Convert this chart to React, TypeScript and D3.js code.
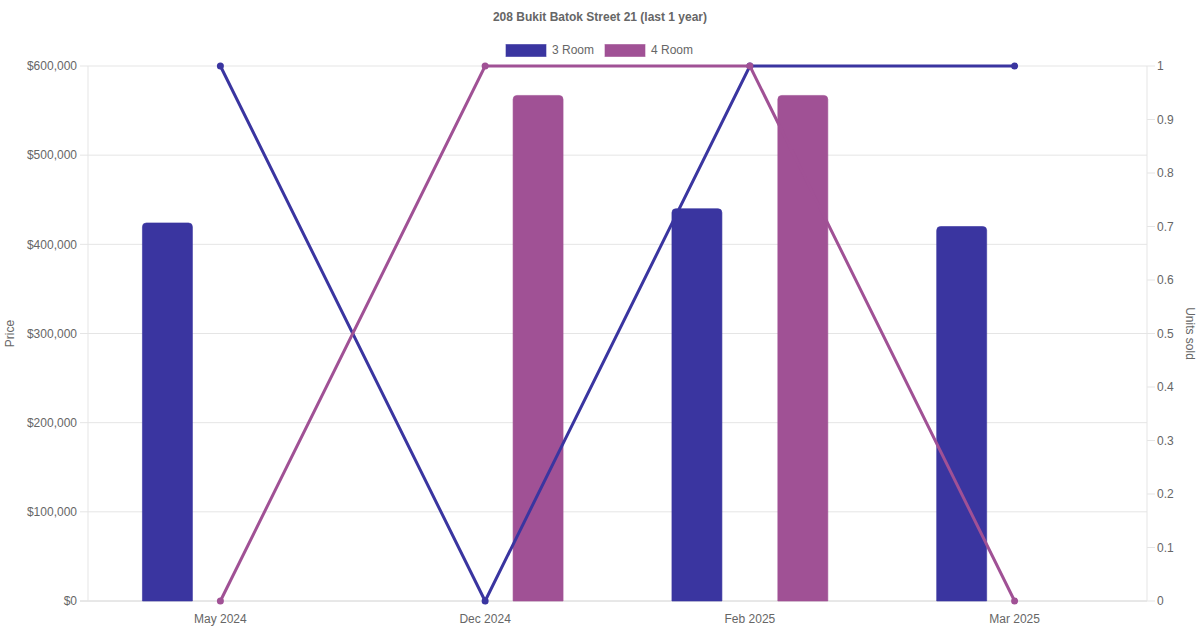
import * as d3 from "d3"

const categories = ["May 2024", "Dec 2024", "Feb 2025", "Mar 2025"]
const seriesNames = ["3 Room", "4 Room"]
const priceThree: (number | null)[] = [424000, null, 440000, 420000]
const priceFour: (number | null)[] = [null, 567000, 567000, null]
const unitsThree = [1, 0, 1, 1]
const unitsFour = [0, 1, 1, 0]
const priceTicks = [0, 100000, 200000, 300000, 400000, 500000, 600000]
const unitTicks = [0, 0.1, 0.2, 0.3, 0.4, 0.5, 0.6, 0.7, 0.8, 0.9, 1]

const colors = ["#3a35a0", "#a05195"]
const width = 1200
const height = 630
const margin = { top: 66, right: 53, bottom: 29, left: 88 }
const font = "'Liberation Sans', Arial, Helvetica, sans-serif"
const textColor = "#666"
const gridColor = "#e5e5e5"

export default function App() {
  const x0 = margin.left
  const x1 = width - margin.right
  const yTop = margin.top
  const yBot = height - margin.bottom

  const x = d3.scaleBand<string>().domain(categories).range([x0, x1])
  const sub = d3
    .scaleBand<string>()
    .domain(seriesNames)
    .range([x.bandwidth() * 0.1, x.bandwidth() * 0.9])
  const barW = Math.min(50, sub.bandwidth() * 0.9)
  const yPrice = d3.scaleLinear().domain([0, 600000]).range([yBot, yTop])
  const yUnits = d3.scaleLinear().domain([0, 1]).range([yBot, yTop])
  const fmt = (v: number) => "$" + d3.format(",")(v)

  const prices = [priceThree, priceFour]
  const units = [unitsThree, unitsFour]

  const line = d3
    .line<number>()
    .x((_, i) => x(categories[i])! + x.bandwidth() / 2)
    .y((d) => yUnits(d))

  const barPath = (bx: number, top: number, w: number, bottom: number, r: number) =>
    `M${bx},${bottom}V${top + r}Q${bx},${top} ${bx + r},${top}H${bx + w - r}Q${bx + w},${top} ${bx + w},${top + r}V${bottom}Z`

  return (
    <svg
      width={width}
      height={height}
      style={{ position: "absolute", left: 0, top: 0, background: "#fff" }}
      fontFamily={font}
    >
      <text
        x={width / 2}
        y={18}
        textAnchor="middle"
        dominantBaseline="middle"
        fontSize={12}
        fontWeight="bold"
        fill={textColor}
      >
        208 Bukit Batok Street 21 (last 1 year)
      </text>

      {/* legend */}
      <g fontSize={12} fill={textColor}>
        {seriesNames.map((s, i) => {
          const lx = i === 0 ? 506 : 605
          return (
            <g key={s}>
              <rect x={lx} y={44.5} width={40} height={12} fill={colors[i]} stroke={colors[i]} strokeOpacity={0.6} />
              <text x={lx + 46} y={51} dominantBaseline="middle">
                {s}
              </text>
            </g>
          )
        })}
      </g>

      {/* grid, ticks, axis labels */}
      <g fontSize={12} fill={textColor}>
        {priceTicks.map((t) => (
          <g key={t}>
            <line x1={x0 - 8} x2={x1} y1={yPrice(t)} y2={yPrice(t)} stroke={t === 0 ? "#d0d0d0" : gridColor} />
            <text x={x0 - 11} y={yPrice(t) + 1} textAnchor="end" dominantBaseline="middle">
              {fmt(t)}
            </text>
          </g>
        ))}
        {unitTicks.map((t) => (
          <g key={t}>
            <line x1={x1} x2={x1 + 8} y1={yUnits(t)} y2={yUnits(t)} stroke={gridColor} />
            <text x={x1 + 10} y={yUnits(t) + 1} dominantBaseline="middle">
              {d3.format("~g")(t)}
            </text>
          </g>
        ))}
        <line x1={x0} x2={x0} y1={yTop} y2={yBot} stroke={gridColor} />
        <line x1={x1} x2={x1} y1={yTop} y2={yBot} stroke={gridColor} />
        {categories.map((c) => (
          <text key={c} x={x(c)! + x.bandwidth() / 2} y={yBot + 19} textAnchor="middle" dominantBaseline="middle">
            {c}
          </text>
        ))}
        <text
          transform={`translate(11,${(yTop + yBot) / 2}) rotate(-90)`}
          textAnchor="middle"
          dominantBaseline="middle"
        >
          Price
        </text>
        <text
          transform={`translate(1189,${(yTop + yBot) / 2}) rotate(90)`}
          textAnchor="middle"
          dominantBaseline="middle"
        >
          Units sold
        </text>
      </g>

      {/* bars */}
      {prices.map((arr, si) => (
        <g key={si} fill={colors[si]} stroke={colors[si]} strokeOpacity={0.6}>
          {arr.map((v, ci) => {
            if (v == null) return null
            const cx = x(categories[ci])! + sub(seriesNames[si])! + sub.bandwidth() / 2
            return <path key={ci} d={barPath(cx - barW / 2, yPrice(v), barW, yBot, 4)} />
          })}
        </g>
      ))}

      {/* lines */}
      {units.map((arr, si) => (
        <g key={si}>
          <path d={line(arr) ?? undefined} fill="none" stroke={colors[si]} strokeWidth={3} />
          {arr.map((v, ci) => (
            <circle
              key={ci}
              cx={x(categories[ci])! + x.bandwidth() / 2}
              cy={yUnits(v)}
              r={3.5}
              fill={colors[si]}
            />
          ))}
        </g>
      ))}
    </svg>
  )
}
